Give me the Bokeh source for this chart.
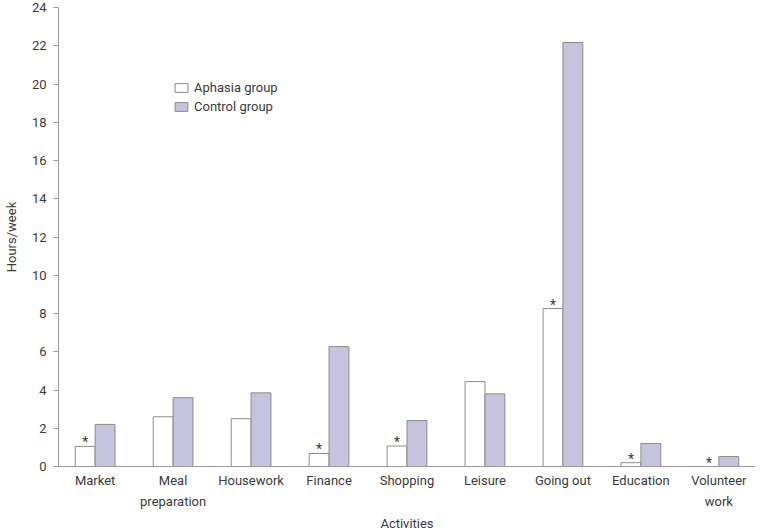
from bokeh.plotting import figure
from bokeh.models import ColumnDataSource, FactorRange, Legend, LegendItem, Range1d, FixedTicker
from bokeh.transform import dodge
from bokeh.core.properties import value
from bokeh.embed import file_html
from bokeh.resources import INLINE

categories = ["Market", "Meal\npreparation", "Housework", "Finance", "Shopping",
              "Leisure", "Going out", "Education", "Volunteer\nwork"]
aphasia = [1.05, 2.6, 2.5, 0.68, 1.07, 4.44, 8.26, 0.2, 0.0]
control = [2.2, 3.6, 3.85, 6.27, 2.4, 3.8, 22.17, 1.2, 0.52]
significant = [True, False, False, True, True, False, True, True, True]
y_ticks = list(range(0, 25, 2))

FONT = "Roboto"
TXT = "#3a3a3a"
EDGE = "#8c8c8c"
CTRL = "#c5c3de"

src = ColumnDataSource(dict(cat=categories, aph=aphasia, ctl=control))
star_src = ColumnDataSource(dict(
    cat=[c for c, s in zip(categories, significant) if s],
    y=[a for a, s in zip(aphasia, significant) if s],
    t=["*" for s in significant if s],
))

p = figure(
    x_range=FactorRange(*categories, range_padding=-0.03, range_padding_units="absolute"),
    y_range=Range1d(0, 24),
    frame_width=697, frame_height=459,
    min_border_left=53, min_border_right=0, min_border_top=7, min_border_bottom=60,
    output_backend="svg", toolbar_location=None,
)
p.outline_line_color = None
p.xgrid.grid_line_color = None
p.ygrid.grid_line_color = None
p.background_fill_color = "white"

W = 0.255
r1 = p.vbar(x=dodge("cat", -W / 2, range=p.x_range), top="aph", width=W, source=src,
            fill_color="white", line_color=EDGE, line_width=1)
r2 = p.vbar(x=dodge("cat", W / 2, range=p.x_range), top="ctl", width=W, source=src,
            fill_color=CTRL, line_color=EDGE, line_width=1)

p.text(x=dodge("cat", -W / 2, range=p.x_range), y="y", text="t", source=star_src,
       text_align="center", text_baseline="alphabetic", y_offset=-4,
       text_font=value(FONT), text_font_size="14px", text_color=TXT)

for ax in (p.xaxis[0], p.yaxis[0]):
    ax.axis_line_color = "#9a9a9a"
    ax.major_label_text_font = FONT
    ax.major_label_text_font_size = "13px"
    ax.major_label_text_color = TXT
    ax.axis_label_text_font = FONT
    ax.axis_label_text_font_size = "13px"
    ax.axis_label_text_font_style = "normal"
    ax.axis_label_text_color = TXT
    ax.minor_tick_line_color = None

p.xaxis.major_tick_line_color = None
p.xaxis.major_tick_out = 0
p.xaxis.major_label_standoff = 6
p.xaxis.major_label_text_line_height = 1.4
p.xaxis.axis_label = "Activities"
p.xaxis.axis_label_standoff = 4

p.yaxis.ticker = FixedTicker(ticks=y_ticks)
p.yaxis.major_tick_line_color = "#9a9a9a"
p.yaxis.major_tick_out = 5
p.yaxis.major_tick_in = 0
p.yaxis.major_label_standoff = 7
p.yaxis.axis_label = "Hours/week"
p.yaxis.axis_label_standoff = 10

legend = Legend(
    items=[LegendItem(label="Aphasia group", renderers=[r1]),
           LegendItem(label="Control group", renderers=[r2])],
    location=(115, 352),
    glyph_width=16, glyph_height=11, label_height=16, spacing=3,
    padding=0, margin=0, label_standoff=5,
    label_text_font=FONT, label_text_font_size="13px", label_text_color=TXT,
    border_line_color=None, background_fill_color=None,
)
p.add_layout(legend, "center")

open("out.html", "w").write(file_html(p, INLINE))
